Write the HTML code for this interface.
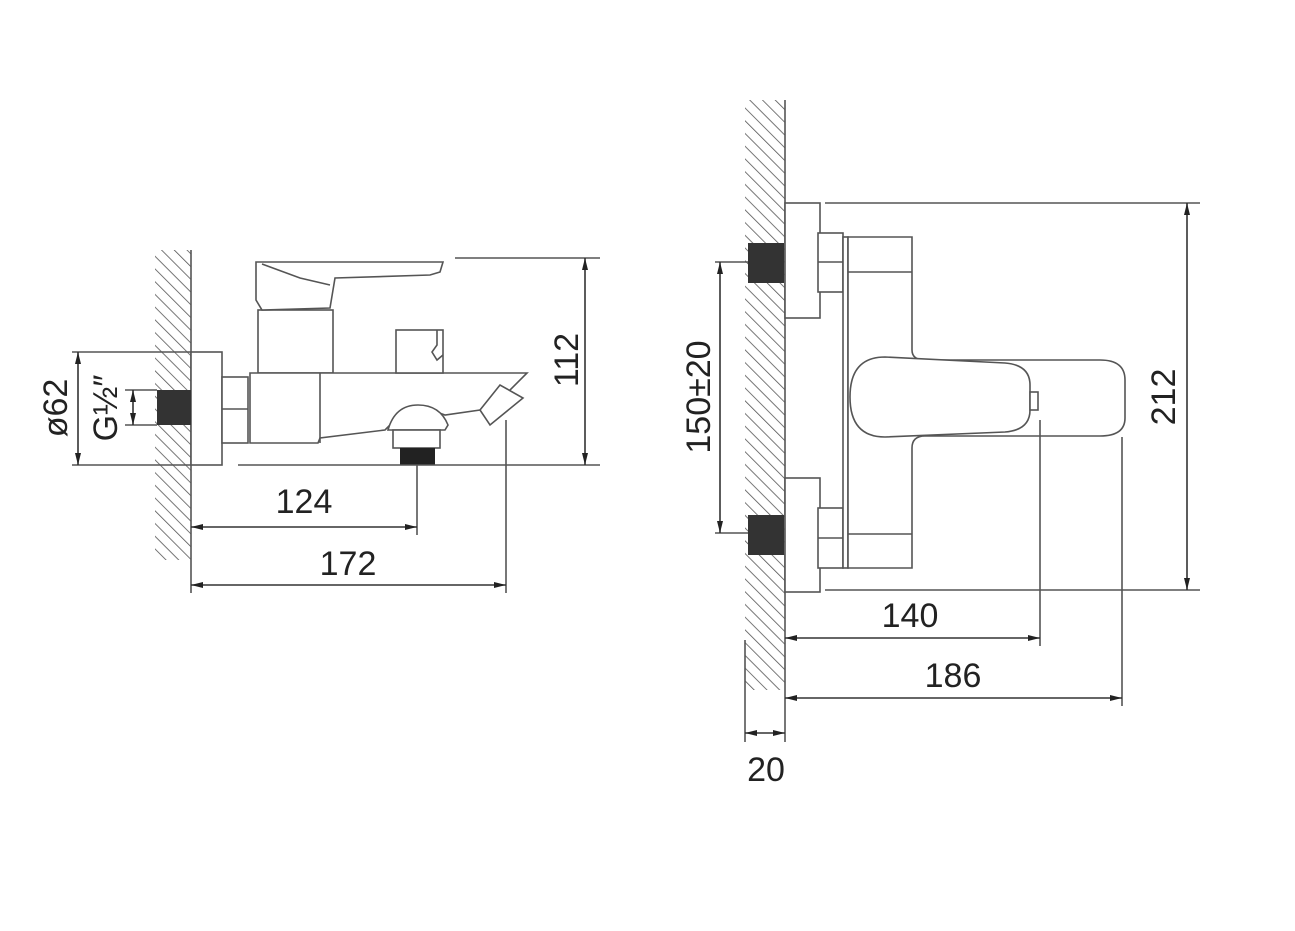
<!DOCTYPE html>
<html><head><meta charset="utf-8"><style>
html,body{margin:0;padding:0;background:#fff;}
svg{display:block;}
text{font-family:"Liberation Sans",sans-serif;font-size:34px;fill:#222;}
</style></head><body>
<svg width="1295" height="931" viewBox="0 0 1295 931" xmlns="http://www.w3.org/2000/svg">
<defs>
<pattern id="h" patternUnits="userSpaceOnUse" width="9" height="9" patternTransform="rotate(-45)">
<line x1="0" y1="0" x2="0" y2="9" stroke="#555" stroke-width="1.6"/>
</pattern>
<marker id="a" markerWidth="12" markerHeight="8" refX="12" refY="4" orient="auto" markerUnits="userSpaceOnUse">
<path d="M0,1 L12,4 L0,7 Z" fill="#222"/></marker>
<marker id="b" markerWidth="12" markerHeight="8" refX="0" refY="4" orient="auto" markerUnits="userSpaceOnUse">
<path d="M12,1 L0,4 L12,7 Z" fill="#222"/></marker>
</defs>
<g fill="none" stroke="#555" stroke-width="1.6">
<!-- LEFT -->
<rect x="155" y="250" width="36" height="310" fill="url(#h)" stroke="none"/>
<line x1="191" y1="250" x2="191" y2="593"/>
<rect x="191" y="352" width="31" height="113" fill="#fff"/>
<rect x="157" y="390" width="34" height="35" fill="#333" stroke="none"/>
<rect x="222" y="377" width="26" height="66" fill="#fff"/>
<line x1="222" y1="409" x2="248" y2="409"/>
<rect x="258" y="310" width="75" height="63" fill="#fff"/>
<path d="M256,262 L443,262 L440,272 L430,275 L335,278 L330,308 L262,310 L256,300 Z" fill="#fff"/>
<path d="M262,264 L300,278 L330,285"/>
<path d="M250,373 L527,373 L505,395 L480,410 L445,415 L425,408 L400,415 L385,430 L320,438 L318,443 L250,443 Z" fill="#fff"/>
<line x1="320" y1="373" x2="320" y2="443"/>
<rect x="396" y="330" width="47" height="43" fill="#fff"/>
<path d="M437,330 L437,345 L432,352 L437,360 L443,355"/>
<path d="M480,410 L500,385 L523,398 L490,425 Z" fill="#fff"/>
<path d="M388,430 Q395,405 418,405 Q440,405 448,425 L445,430 Z" fill="#fff"/>
<rect x="393" y="430" width="47" height="18" fill="#fff"/>
<rect x="400" y="448" width="35" height="17" fill="#222" stroke="none"/>
<line x1="238" y1="465" x2="600" y2="465"/>
<line x1="455" y1="258" x2="600" y2="258"/>
<line x1="585" y1="258" x2="585" y2="465" marker-start="url(#b)" marker-end="url(#a)" stroke="#333"/>
<line x1="72" y1="352" x2="191" y2="352"/>
<line x1="72" y1="465" x2="191" y2="465"/>
<line x1="78" y1="352" x2="78" y2="465" marker-start="url(#b)" marker-end="url(#a)" stroke="#333"/>
<line x1="125" y1="390" x2="157" y2="390"/>
<line x1="125" y1="425" x2="157" y2="425"/>
<line x1="133" y1="390" x2="133" y2="425" marker-start="url(#b)" marker-end="url(#a)" stroke="#333"/>
<line x1="417" y1="465" x2="417" y2="535"/>
<line x1="191" y1="527" x2="417" y2="527" marker-start="url(#b)" marker-end="url(#a)" stroke="#333"/>
<line x1="506" y1="420" x2="506" y2="593"/>
<line x1="191" y1="585" x2="506" y2="585" marker-start="url(#b)" marker-end="url(#a)" stroke="#333"/>
<!-- RIGHT -->
<rect x="745" y="100" width="40" height="590" fill="url(#h)" stroke="none"/>
<line x1="785" y1="100" x2="785" y2="742"/>
<line x1="745" y1="640" x2="745" y2="742"/>
<rect x="785" y="203" width="35" height="115" fill="#fff"/>
<rect x="785" y="478" width="35" height="114" fill="#fff"/>
<rect x="748" y="243" width="36" height="40" fill="#333" stroke="none"/>
<rect x="748" y="515" width="36" height="40" fill="#333" stroke="none"/>
<rect x="818" y="233" width="25" height="59" fill="#fff"/>
<line x1="818" y1="262" x2="843" y2="262"/>
<rect x="818" y="508" width="25" height="60" fill="#fff"/>
<line x1="818" y1="538" x2="843" y2="538"/>
<rect x="843" y="237" width="5" height="331" fill="#fff"/>
<path d="M848,237 L912,237 L912,350 Q912,360 925,360 L1100,360 Q1125,360 1125,380 L1125,418 Q1125,436 1100,436 L925,436 Q912,436 912,448 L912,568 L848,568 Z" fill="#fff"/>
<line x1="848" y1="272" x2="912" y2="272"/>
<line x1="848" y1="534" x2="912" y2="534"/>
<path d="M885,357 Q850,357 850,397 Q850,437 885,437 L1005,432 Q1030,430 1030,410 L1030,385 Q1030,365 1005,363 Z" fill="#fff"/>
<rect x="1030" y="392" width="8" height="18" fill="#fff"/>
<line x1="825" y1="203" x2="1200" y2="203"/>
<line x1="825" y1="590" x2="1200" y2="590"/>
<line x1="1187" y1="203" x2="1187" y2="590" marker-start="url(#b)" marker-end="url(#a)" stroke="#333"/>
<line x1="715" y1="262" x2="748" y2="262"/>
<line x1="715" y1="533" x2="748" y2="533"/>
<line x1="720" y1="262" x2="720" y2="533" marker-start="url(#b)" marker-end="url(#a)" stroke="#333"/>
<line x1="1040" y1="420" x2="1040" y2="646"/>
<line x1="785" y1="638" x2="1040" y2="638" marker-start="url(#b)" marker-end="url(#a)" stroke="#333"/>
<line x1="1122" y1="437" x2="1122" y2="706"/>
<line x1="785" y1="698" x2="1122" y2="698" marker-start="url(#b)" marker-end="url(#a)" stroke="#333"/>
<line x1="745" y1="733" x2="785" y2="733" marker-start="url(#b)" marker-end="url(#a)" stroke="#333"/>
</g>
<text x="304" y="513" text-anchor="middle">124</text>
<text x="348" y="575" text-anchor="middle">172</text>
<text transform="translate(578,360) rotate(-90)" text-anchor="middle">112</text>
<text transform="translate(67,408) rotate(-90)" text-anchor="middle">ø62</text>
<text transform="translate(117,408) rotate(-90)" text-anchor="middle">G½″</text>
<text x="910" y="627" text-anchor="middle">140</text>
<text x="953" y="687" text-anchor="middle">186</text>
<text x="766" y="781" text-anchor="middle">20</text>
<text transform="translate(1175,397) rotate(-90)" text-anchor="middle">212</text>
<text transform="translate(710,397) rotate(-90)" text-anchor="middle">150±20</text>
</svg>
</body></html>
